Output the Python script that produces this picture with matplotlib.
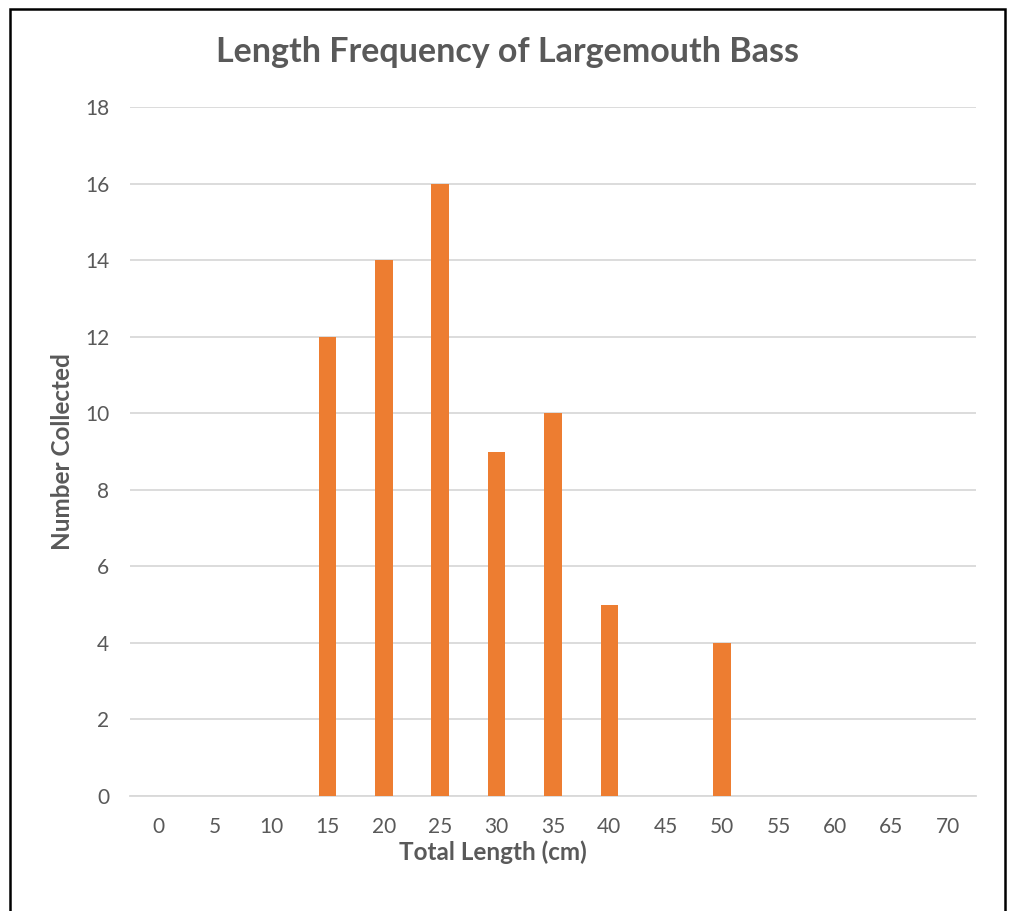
import numpy as np
import matplotlib.pyplot as plt
from matplotlib.patches import Rectangle

# Datos del histograma
longitudes = [0, 5, 10, 15, 20, 25, 30, 35, 40, 45, 50, 55, 60, 65, 70]
cantidad = [0, 0, 0, 12, 14, 16, 9, 10, 5, 0, 4, 0, 0, 0, 0]
yticks = [0, 2, 4, 6, 8, 10, 12, 14, 16, 18]

gris = '#595959'
naranja = '#ED7D31'
plt.rcParams['font.family'] = ['Lato', 'DejaVu Sans']

fig = plt.figure(figsize=(10.1, 9.11), dpi=100)
ax = fig.add_axes([130 / 1010, 1 - 796 / 911, 846 / 1010, 689 / 911])

pos = np.arange(len(longitudes))
ax.bar(pos, cantidad, width=0.31, color=naranja, zorder=3)

ax.set_xlim(-0.5, len(longitudes) - 0.5)
ax.set_ylim(0, 18)
ax.set_xticks(pos)
ax.set_xticklabels([str(v) for v in longitudes])
ax.set_yticks(yticks)
ax.tick_params(axis='both', length=0, labelsize=15, labelcolor=gris)
ax.tick_params(axis='y', pad=15)
ax.tick_params(axis='x', pad=15)
ax.grid(axis='y', color='#d9d9d9', linewidth=1.3, zorder=0)
for s in ['top', 'right', 'left']:
    ax.spines[s].set_visible(False)
ax.spines['bottom'].set_color('#d9d9d9')
ax.spines['bottom'].set_linewidth(1.3)

fig.text(508 / 1010, 1 - 52 / 911, 'Length Frequency of Largemouth Bass',
         ha='center', va='center', fontsize=24.5, fontweight='bold', color=gris)
fig.text(62 / 1010, 1 - 452 / 911, 'Number Collected', rotation=90,
         ha='center', va='center', fontsize=17.5, fontweight='bold', color=gris)
fig.text(493 / 1010, 1 - 852 / 911, 'Total Length (cm)',
         ha='center', va='center', fontsize=17.5, fontweight='bold', color=gris)

# Marco negro
fig.patches.append(Rectangle((10 / 1010, -0.05), 995 / 1010, 1.05 - 9 / 911,
                             transform=fig.transFigure, fill=False,
                             edgecolor='black', linewidth=1.8))

fig.savefig('out.png', dpi=100)
